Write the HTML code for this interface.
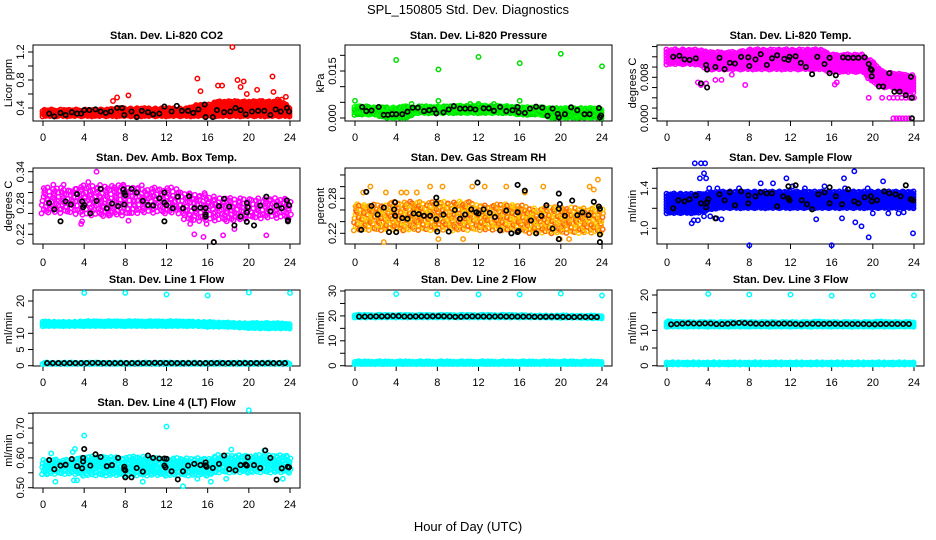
<!DOCTYPE html>
<html><head><meta charset="utf-8"><style>
html,body{margin:0;padding:0;background:#fff}
svg{display:block;font-family:"Liberation Sans",Arial,sans-serif}
</style></head><body>
<svg id="chart" width="936" height="540" viewBox="0 0 936 540" xmlns="http://www.w3.org/2000/svg">
<rect width="936" height="540" fill="#fff"/>
<text x="468" y="14" font-size="13" text-anchor="middle">SPL_150805  Std. Dev. Diagnostics</text>
<text x="468" y="531" font-size="13" text-anchor="middle">Hour of Day (UTC)</text>
</svg>
<script>
// ---- shared data ----
const hours = [0,1,2,3,4,5,6,7,8,9,10,11,12,13,14,15,16,17,18,19,20,21,22,23,24];
const xTicks = [0,4,8,12,16,20,24];

// CO2
const co2Lo = [0.28,0.28,0.28,0.28,0.28,0.28,0.28,0.28,0.28,0.28,0.28,0.28,0.28,0.28,0.28,0.28,0.28,0.28,0.28,0.28,0.28,0.28,0.28,0.28,0.28];
const co2Hi = [0.38,0.38,0.38,0.38,0.38,0.38,0.38,0.40,0.40,0.40,0.40,0.40,0.40,0.40,0.40,0.45,0.45,0.50,0.50,0.50,0.50,0.50,0.50,0.50,0.42];
const co2OutX = [15,15.3,17,17.4,18.4,18.9,19.5,19.2,20.8,22.3,22.4,23.6,8.3,7.2,6.8,19.8,21.3,22.8,23.2];
const co2OutY = [0.82,0.64,0.72,0.72,1.27,0.8,0.78,0.7,0.66,0.85,0.63,0.56,0.58,0.55,0.5,0.6,0.5,0.52,0.52];
const co2BlkX = [0.6,1.1,1.7,2.2,2.8,3.3,3.7,4,4.5,5.1,5.6,6.1,6.6,7.2,7.7,7.9,8.6,9.1,9.6,10.2,10.7,11.3,11.8,12.5,13,13.5,14.1,14.6,15.1,15.7,15.8,16.5,16.9,17.6,18.2,18.7,19.2,19.7,20.3,20.9,21.5,22.1,22.6,23.1,23.7,23.9];
const co2BlkY = [0.32,0.28,0.33,0.3,0.34,0.32,0.32,0.37,0.37,0.38,0.35,0.33,0.35,0.4,0.4,0.3,0.35,0.27,0.36,0.34,0.31,0.32,0.42,0.35,0.43,0.36,0.36,0.33,0.38,0.45,0.27,0.27,0.37,0.34,0.35,0.4,0.37,0.31,0.35,0.36,0.36,0.3,0.38,0.35,0.4,0.35];

// Pressure
const prLo = [0.001,0.001,0.001,0,0,0,0.0015,0.0015,0.0015,0.0015,0.0015,0.0015,0.0015,0.0015,0.0015,0.0015,0.001,0.001,0.001,0,0,0,0,0,0];
const prHi = [0.0038,0.0038,0.0035,0.0035,0.0035,0.0038,0.0038,0.0038,0.0038,0.0038,0.004,0.004,0.004,0.004,0.004,0.0038,0.0035,0.0035,0.0035,0.0032,0.0032,0.0032,0.0032,0.0032,0.003];
const prOutX = [0,4,8.1,8.1,12,16,16,20,24,5.5,11.2,12,13.5];
const prOutY = [0.0055,0.0185,0.0155,0.0055,0.0195,0.0175,0.0055,0.0205,0.0165,0.0045,0.0045,0.0045,0.0045];
const prBlkX = [0.7,1.1,1.6,2.3,2.8,3.2,3.6,4,4.6,5.1,5.6,6.1,6.7,7.2,7.7,7.9,8.6,9.1,9.6,10.2,10.7,11.2,11.7,12.5,13,13.5,14.1,14.7,15.3,15.8,15.9,16.5,17,17.6,18.2,18.7,19.2,19.7,19.8,20.4,21,21.6,22.3,22.8,23.7,23.9,23.8];
const prBlkY = [0.0035,0.0022,0.0024,0.0035,0.001,0.001,0.0012,0.0012,0.0012,0.002,0.0033,0.0033,0.0022,0.0025,0.0027,0.0015,0.0018,0.0027,0.0038,0.003,0.003,0.003,0.0027,0.0031,0.0031,0.0023,0.0035,0.0022,0.0025,0.0035,0.0018,0.0016,0.003,0.0036,0.0033,0.0007,0.003,0.0013,0.0002,0.0012,0.0034,0.0025,0.0012,0.0012,0.0032,0.0008,0.0002];

// Li-820 temp
const tmLo = [0.0105,0.0105,0.0105,0.0105,0.0095,0.0095,0.0095,0.0095,0.0095,0.0095,0.0095,0.0095,0.0095,0.0095,0.0095,0.0095,0.009,0.009,0.009,0.009,0.007,0.006,0.006,0.005,0.005];
const tmHi = [0.0135,0.0135,0.0135,0.0135,0.013,0.013,0.013,0.013,0.0135,0.0135,0.0135,0.0135,0.0135,0.0135,0.0135,0.0135,0.0125,0.0125,0.0125,0.0125,0.011,0.009,0.009,0.0085,0.0085];
const tmOutX = [3,3.3,3.8,4.7,5.3,7.6,6.3,16.3,16.5,19.6,20.9,21.6,22,22.4,22.8,23.2,23.6,24,22,22.3,22.6,22.9,23.2,23.5];
const tmOutY = [0.007,0.0065,0.0068,0.0075,0.0075,0.0065,0.0085,0.0066,0.007,0.004,0.004,0.004,0.004,0.004,0.004,0.004,0.004,0.004,0,0,0,0,0,0];
const tmBlkX = [0.6,1.2,1.7,2.2,2.8,3.3,3.8,3.9,3.9,5.1,4.7,5.6,6.1,6.6,7.2,7.9,8,8.6,9.1,9.7,10.2,10.7,11.4,11.8,11.9,12.5,13,13.5,14.1,14.6,15.3,15.8,15.8,16.4,17.1,17.6,18.1,18.6,19.2,19.6,19.9,19.8,19.9,20.6,21,21.6,22.1,22.6,23.2,23.7,23.8,23.8];
const tmBlkY = [0.012,0.0122,0.0115,0.0114,0.0117,0.0068,0.0104,0.0095,0.006,0.0118,0.01,0.0096,0.0108,0.0107,0.012,0.0119,0.0102,0.0115,0.0125,0.0104,0.0117,0.0123,0.0116,0.0114,0.012,0.0121,0.0108,0.01,0.0086,0.012,0.0106,0.0118,0.0088,0.0084,0.0119,0.0118,0.0118,0.0118,0.0119,0.0106,0.0094,0.0096,0.0082,0.0062,0.0062,0.0088,0.0052,0.0052,0.0045,0.0081,0.004,0];

// Amb box temp
const abLo = [0.26,0.26,0.26,0.26,0.255,0.255,0.255,0.255,0.255,0.26,0.26,0.26,0.26,0.26,0.245,0.245,0.245,0.245,0.245,0.245,0.25,0.25,0.25,0.25,0.25];
const abHi = [0.31,0.31,0.31,0.31,0.315,0.315,0.315,0.315,0.315,0.31,0.31,0.31,0.31,0.31,0.30,0.30,0.30,0.29,0.29,0.29,0.29,0.29,0.29,0.29,0.29];
const abOutX = [1,2,5.2,7.8,9.6,4.4,3.7,8.3,14.3,14.7,15.6,16.6,17.5,18.6,21.7,15.9,3.8,6.4];
const abOutY = [0.315,0.315,0.34,0.315,0.314,0.32,0.24,0.246,0.24,0.22,0.215,0.205,0.218,0.23,0.218,0.24,0.245,0.256];
const abBlkX = [0.6,1.1,1.7,2.2,2.7,3.3,3.8,3.9,4,4.6,5.2,5.6,6.2,6.7,7.3,7.8,7.9,8,7.9,8.6,9.1,9.7,10.2,10.7,11.3,11.8,11.8,12,11.8,12.6,13.1,13.6,14.2,14.7,15.3,15.8,15.8,15.8,16.6,17.1,17.6,18.1,18.6,19.2,19.8,19.9,19.8,19.8,20.5,21.1,21.7,22.1,22.7,23.2,23.7,23.8,23.8,23.9];
const abBlkY = [0.28,0.268,0.245,0.283,0.277,0.297,0.283,0.272,0.276,0.26,0.284,0.307,0.27,0.279,0.274,0.306,0.3,0.295,0.277,0.307,0.3,0.284,0.276,0.275,0.289,0.281,0.3,0.276,0.245,0.27,0.292,0.27,0.293,0.27,0.271,0.27,0.258,0.254,0.205,0.274,0.288,0.273,0.237,0.254,0.28,0.272,0.262,0.244,0.237,0.275,0.292,0.264,0.275,0.27,0.285,0.247,0.245,0.276];

// Gas stream RH
const rhLo = [0.225,0.225,0.225,0.225,0.225,0.225,0.225,0.225,0.225,0.225,0.225,0.225,0.225,0.225,0.225,0.225,0.225,0.22,0.22,0.22,0.22,0.22,0.22,0.22,0.22];
const rhHi = [0.27,0.27,0.27,0.27,0.275,0.275,0.275,0.275,0.275,0.275,0.275,0.275,0.27,0.27,0.27,0.27,0.27,0.265,0.265,0.265,0.265,0.265,0.265,0.265,0.265];
const rhOutX = [0.8,1.5,3,4.5,5,6,7.3,8.5,11.4,12.6,14.7,18.3,22.8,23.6,23.2,2.8,8.1,10.5,20.8,19.9,16.5];
const rhOutY = [0.29,0.3,0.29,0.29,0.29,0.29,0.3,0.3,0.3,0.3,0.3,0.3,0.3,0.312,0.295,0.205,0.21,0.21,0.21,0.21,0.29];
const rhBlkX = [0.6,1.1,1.6,2.2,2.8,3.3,3.8,3.9,3.9,4,4.6,5.1,5.7,6.2,6.7,7.3,7.9,7.9,7.9,8,8.6,9.1,9.7,10.2,10.7,11.3,11.8,11.9,12,12.5,13.1,13.6,14.1,14.7,15.2,15.8,15.8,15.8,15.9,16.5,17.1,17.6,18.1,18.6,19.2,19.8,19.9,19.8,19.8,20.4,21.1,21.6,22.1,22.7,23.2,23.7,23.8,23.8,23.8];
const rhBlkY = [0.226,0.291,0.267,0.252,0.264,0.222,0.261,0.273,0.25,0.222,0.246,0.245,0.254,0.253,0.25,0.25,0.271,0.281,0.244,0.223,0.252,0.223,0.26,0.245,0.252,0.261,0.256,0.307,0.254,0.261,0.255,0.248,0.225,0.259,0.22,0.256,0.303,0.222,0.224,0.293,0.242,0.22,0.25,0.268,0.228,0.262,0.27,0.288,0.21,0.25,0.276,0.251,0.256,0.251,0.274,0.266,0.262,0.218,0.205];

// Sample flow
const sfLo = [1.15,1.15,1.15,1.15,1.18,1.2,1.2,1.2,1.2,1.2,1.2,1.2,1.2,1.2,1.2,1.2,1.2,1.2,1.2,1.2,1.2,1.2,1.2,1.2,1.2];
const sfHi = [1.35,1.35,1.35,1.35,1.36,1.37,1.37,1.37,1.37,1.37,1.37,1.37,1.37,1.37,1.37,1.37,1.37,1.37,1.37,1.37,1.37,1.37,1.37,1.37,1.37];
const sfOutX = [2.7,3.3,3.7,3.6,3.2,2.4,2.6,3,3.6,4.2,4.8,5.3,8,11.6,16,17.2,18.2,18.3,18.9,17,19.6,23.9,14.5,13.4,20,21.5,22.5,23,21,19.5,15.3,17.3,10.3,3.8,4.1,4.9,9.1,7,12.2];
const sfOutY = [1.65,1.65,1.65,1.55,1.5,1.05,1.08,1.08,1.12,1.12,1.1,1.09,0.83,1.5,0.83,1.5,1.57,1.06,1.02,1.1,0.91,0.95,1.09,1.4,1.15,1.15,1.15,1.16,1.47,1.4,1.42,1.4,1.45,1.5,1.4,1.4,1.45,1.4,1.42];
const sfBlkX = [0.6,1.1,1.7,2.2,2.8,3.3,3.8,3.9,4,4.7,5.1,5.6,6.1,6.6,7.2,7.9,7.9,8.6,9.1,9.7,10.2,10.7,11.3,11.8,11.8,11.9,12.5,13.1,13.6,14.1,14.7,15.3,15.8,15.8,16.4,17,17.6,18.2,18.6,19.2,19.8,19.9,20.4,21.1,21.6,22.2,22.7,23.2,23.7,23.9];
const sfBlkY = [1.2,1.28,1.27,1.29,1.33,1.25,1.21,1.26,1.29,1.1,1.34,1.28,1.36,1.23,1.37,1.33,1.25,1.32,1.36,1.35,1.35,1.22,1.32,1.3,1.42,1.28,1.43,1.28,1.24,1.19,1.34,1.36,1.41,1.25,1.32,1.24,1.39,1.27,1.25,1.31,1.32,1.27,1.28,1.37,1.35,1.34,1.32,1.43,1.29,1.28];

// Line flows
const l1Lo = [12.2,12.2,12.2,12.2,12.2,12.2,12.2,12.2,12.2,12.2,12.2,12.2,12.2,12.2,12.2,12.2,12.0,12.0,12.0,11.8,11.6,11.5,11.5,11.5,11.5];
const l1Hi = [13.8,13.6,13.6,13.6,13.8,13.8,13.8,13.8,13.8,13.8,13.8,13.8,13.8,13.8,13.8,13.6,13.6,13.4,13.4,13.2,13.2,13.2,13.2,13.2,13.0];
const l1BaseLo = [0.5,0.5,0.5,0.5,0.5,0.5,0.5,0.5,0.5,0.5,0.5,0.5,0.5,0.5,0.5,0.5,0.5,0.5,0.5,0.5,0.5,0.5,0.5,0.5,0.5];
const l1BaseHi = [1.0,1.0,1.0,1.0,1.0,1.0,1.0,1.0,1.0,1.0,1.0,1.0,1.0,1.0,1.0,1.0,1.0,1.0,1.0,1.0,1.0,1.0,1.0,1.0,1.0];
const l1Blk = [0.8,0.8,0.8,0.8,0.8,0.9,0.8,0.8,0.8,0.8,0.8,0.9,0.8,0.8,0.8,0.8,0.8,0.8,0.8,0.8,0.8,0.8,0.8,0.8,0.8];
const l1OutX = [4,8,12,16,20,24];
const l1OutY = [22.5,22.5,22,21.7,22.6,22.5];

const l2Lo = [19.3,19.3,19.3,19.3,19.3,19.3,19.3,19.3,19.3,19.3,19.3,19.3,19.3,19.3,19.3,19.3,19.3,19.3,19.3,19.2,19.2,19.2,19.2,19.0,19.0];
const l2Hi = [20.6,20.5,20.5,20.5,20.5,20.5,20.5,20.5,20.5,20.5,20.5,20.5,20.5,20.5,20.5,20.5,20.5,20.3,20.3,20.3,20.3,20.2,20.2,20.2,20.2];
const l2BaseLo = [0.6,0.6,0.6,0.6,0.6,0.6,0.6,0.6,0.6,0.6,0.6,0.6,0.6,0.6,0.6,0.6,0.6,0.6,0.6,0.6,0.6,0.6,0.6,0.6,0.6];
const l2BaseHi = [1.8,1.8,1.8,1.8,1.8,1.8,1.8,1.8,1.8,1.8,1.8,1.8,1.8,1.8,1.8,1.8,1.8,1.8,1.8,1.8,1.8,1.8,1.8,1.8,1.8];
const l2Blk = [19.7,19.7,19.8,19.8,20.0,19.7,19.8,19.8,19.9,19.8,19.6,19.8,19.8,19.7,19.8,19.7,19.7,19.7,19.6,19.7,19.6,19.5,19.6,19.5,19.5];
const l2OutX = [4,8,12,16,20,24];
const l2OutY = [28.8,28.7,28.6,28.6,29.0,28.2];

const l3Lo = [11.0,11.0,11.0,11.0,11.0,11.0,11.0,11.0,11.0,11.0,11.0,11.0,11.0,11.0,11.0,11.0,11.0,11.0,11.0,11.0,11.0,11.0,11.0,11.0,11.0];
const l3Hi = [12.8,12.4,12.4,12.4,12.4,12.4,12.4,12.4,12.4,12.4,12.4,12.4,12.4,12.4,12.4,12.6,12.4,12.4,12.4,12.4,12.4,12.6,12.4,12.4,12.4];
const l3BaseLo = [0.3,0.3,0.3,0.3,0.3,0.3,0.3,0.3,0.3,0.3,0.3,0.3,0.3,0.3,0.3,0.3,0.3,0.3,0.3,0.3,0.3,0.3,0.3,0.3,0.3];
const l3BaseHi = [1.0,1.0,1.0,1.0,1.0,1.0,1.0,1.0,1.0,1.0,1.0,1.0,1.0,1.0,1.0,1.0,1.0,1.0,1.0,1.0,1.0,1.0,1.0,1.0,1.0];
const l3Blk = [11.6,11.8,12.0,11.9,12.0,11.7,11.9,12.1,12.0,11.8,11.9,11.9,11.9,11.7,11.9,11.8,11.9,11.8,11.8,11.8,11.7,11.8,11.8,11.8,11.8];
const l3OutX = [4,8,12,16,20,24];
const l3OutY = [20.3,20.1,20.1,19.8,19.9,19.9];

// Line 4
const l4Lo = [0.545,0.545,0.545,0.545,0.54,0.54,0.54,0.54,0.54,0.54,0.54,0.54,0.54,0.54,0.54,0.54,0.54,0.55,0.55,0.55,0.55,0.55,0.55,0.55,0.55];
const l4Hi = [0.595,0.595,0.595,0.595,0.605,0.605,0.605,0.605,0.605,0.605,0.605,0.60,0.60,0.60,0.60,0.60,0.60,0.61,0.61,0.61,0.61,0.61,0.61,0.61,0.61];
const l4OutX = [4,12,20,3.1,0.4,1.2,3,13.6,15,16.3,18.3,21.5,9.7,3.3,0.8,23.3,2.9,17.8];
const l4OutY = [0.675,0.705,0.76,0.63,0.545,0.52,0.525,0.505,0.53,0.52,0.628,0.625,0.52,0.525,0.615,0.53,0.62,0.53];
const l4BlkX = [0.6,1.1,1.7,2.2,2.8,3.3,3.8,3.9,3.9,4,4.6,5.1,5.6,6.2,6.7,7.3,7.9,7.9,8,8,8.6,9.1,9.7,10.2,10.7,11.3,11.8,11.8,12,11.9,12.5,13.1,13.6,14.1,14.7,15.3,15.8,15.8,15.9,16.5,17.1,17.6,18.1,18.7,19.2,19.7,19.8,19.9,20.5,21.1,21.6,22.1,22.7,23.2,23.8,23.9];
const l4BlkY = [0.593,0.562,0.574,0.577,0.596,0.572,0.565,0.6,0.588,0.63,0.574,0.612,0.603,0.572,0.576,0.6,0.57,0.562,0.558,0.535,0.535,0.566,0.554,0.608,0.6,0.598,0.598,0.574,0.597,0.568,0.555,0.528,0.555,0.574,0.58,0.576,0.585,0.575,0.57,0.566,0.58,0.608,0.562,0.558,0.576,0.578,0.574,0.602,0.576,0.566,0.625,0.6,0.527,0.565,0.57,0.568];

// ---- rendering ----
const NS = 'http://www.w3.org/2000/svg';
const svg = document.getElementById('chart');
const colX0 = [43,355,667];
const rowTop = [45,168,290,413], rowBot = [121,244,366,488];
const rowTitle = [39,161,283,406], rowLab = [141,266,386,508];
const HW = 247/24;
const jitterPattern = [0,0.55,0.2,0.8,0.35,0.95,0.1,0.65,0.45,0.3,0.85,0.05,0.7,0.25,0.6,0.9,0.15,0.5,0.75,0.4];

function mk(tag, attrs, parent){
  const e = document.createElementNS(NS, tag);
  for (const k in attrs) e.setAttribute(k, attrs[k]);
  (parent||svg).appendChild(e);
  return e;
}
function interp(arr, h){
  const i = Math.min(23, Math.floor(h)), f = h - i;
  return arr[i]*(1-f) + arr[i+1]*f;
}

function panel(cfg){
  const x0 = colX0[cfg.col], top = rowTop[cfg.row], bot = rowBot[cfg.row];
  const g = mk('g', {});
  
  
  const xs = h => x0 + h*HW;
  const [v1,p1,v2,p2] = cfg.yref;
  const ys = v => p1 + (v - v1)*(p2 - p1)/(v2 - v1);
  const box = mk('rect', {x:x0-10, y:top, width:247+20, height:bot-top, fill:'none', stroke:'#000', 'stroke-width':1}, g);
  
  
  const t = mk('text', {x:x0+123.5, y:rowTitle[cfg.row], 'font-size':11, 'font-weight':'bold', 'text-anchor':'middle'}, g);
  t.textContent = cfg.title;
  
  
  const xa = mk('g', {}, g);
  
  
  xTicks.forEach(v => {
    mk('line', {x1:xs(v), x2:xs(v), y1:bot, y2:bot+5, stroke:'#000'}, xa);
    const l = mk('text', {x:xs(v), y:rowLab[cfg.row], 'font-size':11, 'text-anchor':'middle'}, xa);
    l.textContent = v;
    
    
  });
  const ya = mk('g', {}, g);
  
  
  cfg.yticks.forEach(v => {
    mk('line', {x1:x0-10, x2:x0-15, y1:ys(v), y2:ys(v), stroke:'#000'}, ya);
  });
  cfg.ylabels.forEach((lab,i) => {
    const y = ys(cfg.ylabelVals[i]);
    const l = mk('text', {x:0, y:0, 'font-size':11, 'text-anchor':'middle', transform:`translate(${x0-19},${y}) rotate(-90)`}, ya);
    l.textContent = lab;
    
    
  });
  const yl = mk('text', {x:0, y:0, 'font-size':11, 'text-anchor':'middle', transform:`translate(${x0-31},${(top+bot)/2}) rotate(-90)`}, ya);
  yl.textContent = cfg.ylab;
  
  
  const s = mk('g', {fill:'none', 'stroke-width':1.5}, g);
  
  
  const colors = cfg.colors;
  (cfg.bands||[]).forEach(b => {
    const dx = b.dx, dpy = b.dpy;
    let k = 0;
    for (let h = 0; h <= 24.001; h += dx, k++){
      const hh = Math.min(h,24);
      const lo = interp(b.lo, hh), hi = interp(b.hi, hh);
      const plo = ys(lo), phi = ys(hi);
      const off = jitterPattern[k % jitterPattern.length]*dpy;
      const xj = (jitterPattern[(k*7) % jitterPattern.length]-0.5)*dx*HW*0.8;
      let j = 0;
      for (let p = plo - off; p >= phi - 0.01; p -= dpy, j++){
        const xoff = b.sparse ? (jitterPattern[(k+j*3) % jitterPattern.length]-0.5)*dx*HW : xj;
        mk('circle', {cx:(xs(hh)+xoff).toFixed(1), cy:p.toFixed(1), r:2.2, stroke:colors[(k+j)%colors.length]}, s);
      }
    }
  });
  (cfg.outX||[]).forEach((h,i) => {
    mk('circle', {cx:xs(h).toFixed(1), cy:ys(cfg.outY[i]).toFixed(1), r:2.2, stroke:colors[0]}, s);
  });
  const bs = mk('g', {fill:'none', 'stroke-width':1.7}, g);
  
  
  if (cfg.blkX) cfg.blkX.forEach((h,i) => {
    mk('circle', {cx:xs(h).toFixed(1), cy:ys(cfg.blkY[i]).toFixed(1), r:2.2, stroke:'#000'}, bs);
  });
  if (cfg.blkHourly) {
    for (let h = 0.4; h <= 23.9; h += 0.55) {
      mk('circle', {cx:xs(h).toFixed(1), cy:ys(interp(cfg.blkHourly, h)).toFixed(1), r:2.2, stroke:'#000'}, bs);
    }
  }
}

panel({name:'co2', col:0, row:0, title:'Stan. Dev. Li-820 CO2', ylab:'Licor ppm', yref:[0.4,108,1.2,52],
  yticks:[0.4,0.6,0.8,1.0,1.2], ylabels:['0.4','0.8','1.2'], ylabelVals:[0.4,0.8,1.2], colors:['#ff0000'],
  bands:[{lo:co2Lo, hi:co2Hi, dx:0.12, dpy:2.6}], outX:co2OutX, outY:co2OutY, blkX:co2BlkX, blkY:co2BlkY});
panel({name:'pressure', col:1, row:0, title:'Stan. Dev. Li-820 Pressure', ylab:'kPa', yref:[0,118,0.015,71],
  yticks:[0,0.005,0.01,0.015,0.02], ylabels:['0.000','0.015'], ylabelVals:[0,0.015], colors:['#00dd00','#00ff00'],
  bands:[{lo:prLo, hi:prHi, dx:0.12, dpy:2.6}], outX:prOutX, outY:prOutY, blkX:prBlkX, blkY:prBlkY});
panel({name:'li820-temp', col:2, row:0, title:'Stan. Dev. Li-820 Temp.', ylab:'degrees C', yref:[0,118.3,0.008,77.3],
  yticks:[0,0.002,0.004,0.006,0.008,0.010,0.012,0.014], ylabels:['0.000','0.008'], ylabelVals:[0,0.008], colors:['#ff00ff'],
  bands:[{lo:tmLo, hi:tmHi, dx:0.14, dpy:3}], outX:tmOutX, outY:tmOutY, blkX:tmBlkX, blkY:tmBlkY});
panel({name:'amb-box-temp', col:0, row:1, title:'Stan. Dev. Amb. Box Temp.', ylab:'degrees C', yref:[0.22,234.3,0.34,171.7],
  yticks:[0.22,0.24,0.26,0.28,0.30,0.32,0.34], ylabels:['0.22','0.28','0.34'], ylabelVals:[0.22,0.28,0.34], colors:['#ff00ff'],
  bands:[{lo:abLo, hi:abHi, dx:0.3, dpy:4.2, sparse:true}], outX:abOutX, outY:abOutY, blkX:abBlkX, blkY:abBlkY});
panel({name:'gas-stream-rh', col:1, row:1, title:'Stan. Dev. Gas Stream RH', ylab:'percent', yref:[0.22,233.3,0.28,198.3],
  yticks:[0.22,0.24,0.26,0.28,0.30,0.32], ylabels:['0.22','0.28'], ylabelVals:[0.22,0.28], colors:['#ff9900','#ffcc00','#ff6600'],
  bands:[{lo:rhLo, hi:rhHi, dx:0.24, dpy:4, sparse:true}], outX:rhOutX, outY:rhOutY, blkX:rhBlkX, blkY:rhBlkY});
panel({name:'sample-flow', col:2, row:1, title:'Stan. Dev. Sample Flow', ylab:'ml/min', yref:[1.0,228.3,1.4,188.3],
  yticks:[1.0,1.2,1.4,1.6], ylabels:['1.0','1.4'], ylabelVals:[1.0,1.4], colors:['#0000ff'],
  bands:[{lo:sfLo, hi:sfHi, dx:0.12, dpy:2.8}], outX:sfOutX, outY:sfOutY, blkX:sfBlkX, blkY:sfBlkY});
panel({name:'line1-flow', col:0, row:2, title:'Stan. Dev. Line 1 Flow', ylab:'ml/min', yref:[0,365.7,20,301],
  yticks:[0,5,10,15,20], ylabels:['0','5','10','20'], ylabelVals:[0,5,10,20], colors:['#00ffff'],
  bands:[{lo:l1Lo, hi:l1Hi, dx:0.1, dpy:2.2}, {lo:l1BaseLo, hi:l1BaseHi, dx:0.12, dpy:2}], outX:l1OutX, outY:l1OutY, blkHourly:l1Blk});
panel({name:'line2-flow', col:1, row:2, title:'Stan. Dev. Line 2 Flow', ylab:'ml/min', yref:[0,365.7,30,291],
  yticks:[0,5,10,15,20,25,30], ylabels:['0','10','20','30'], ylabelVals:[0,10,20,30], colors:['#00ffff'],
  bands:[{lo:l2Lo, hi:l2Hi, dx:0.1, dpy:2.2}, {lo:l2BaseLo, hi:l2BaseHi, dx:0.1, dpy:2.2}], outX:l2OutX, outY:l2OutY, blkHourly:l2Blk});
panel({name:'line3-flow', col:2, row:2, title:'Stan. Dev. Line 3 Flow', ylab:'ml/min', yref:[0,365.7,20,295],
  yticks:[0,5,10,15,20], ylabels:['0','5','10','20'], ylabelVals:[0,5,10,20], colors:['#00ffff'],
  bands:[{lo:l3Lo, hi:l3Hi, dx:0.1, dpy:2.2}, {lo:l3BaseLo, hi:l3BaseHi, dx:0.1, dpy:2.2}], outX:l3OutX, outY:l3OutY, blkHourly:l3Blk});
panel({name:'line4-flow', col:0, row:3, title:'Stan. Dev. Line 4 (LT) Flow', ylab:'ml/min', yref:[0.5,487.7,0.7,428.1],
  yticks:[0.5,0.55,0.6,0.65,0.7,0.75], ylabels:['0.50','0.60','0.70'], ylabelVals:[0.5,0.6,0.7], colors:['#00ffff'],
  bands:[{lo:l4Lo, hi:l4Hi, dx:0.2, dpy:3.6, sparse:true}], outX:l4OutX, outY:l4OutY, blkX:l4BlkX, blkY:l4BlkY});
</script>
</body></html>
